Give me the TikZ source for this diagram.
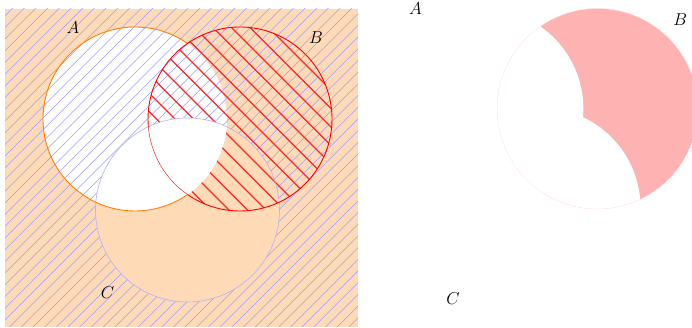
\documentclass[tikz,border=0pt]{standalone}
\definecolor{peach}{RGB}{255,218,182}
\tikzset{
  lbl/.style={inner sep=0pt, font=\LARGE},
  bluehatch/.style={draw=blue!38, line width=0.55pt},
  redhatch/.style={draw=red!85, line width=1.15pt}
}
\begin{document}
\begin{tikzpicture}[x=1pt,y=1pt]
\useasboundingbox (0,0) rectangle (692,328);
\clip (0,0) rectangle (692,328);
\def\pA{(135,209) circle (92)}
\def\pB{(240,209) circle (92)}
\def\pC{(187.5,118) circle (92)}
\def\pU{(5,1) rectangle (358,319)}
% ---------- left panel ----------
\fill[peach] \pU;
\fill[white] \pA;
\begin{scope}
  \clip \pU;
  \foreach \c in {330.7,319,...,-370}
    \draw[bluehatch] (-10,{-10+\c}) -- (370,{370+\c});
\end{scope}
\fill[peach] \pC;
\begin{scope}
  \clip \pC;
  \fill[white] \pA;
\end{scope}
\begin{scope}
  \clip \pB;
  \foreach \c in {254.5,273,...,650}
    \draw[redhatch] (120,{\c-120}) -- (360,{\c-360});
\end{scope}
\begin{scope}
  \clip \pA;
  \fill[white] \pC;
\end{scope}
% outlines
\draw[blue!30, line width=0.6pt] \pC;
\draw[orange, line width=0.9pt] (135,209) ++(55.2:92) arc[start angle=55.2, end angle=304.8, radius=92];
\draw[red, line width=0.4pt] (240,209) ++(184.8:92) arc[start angle=184.8, end angle=235.2, radius=92];
\draw[red, line width=0.9pt] (240,209) ++(235.2:92) arc[start angle=235.2, end angle=544.8, radius=92];
\node[lbl] (la) at (73,300.5) {$A$};
\node[lbl] (lb) at (316,290.5) {$B$};
\node[lbl] (lc) at (107.5,35) {$C$};
% ---------- right panel ----------
\begin{scope}[shift={(597.5,219.3)}, scale=1.09, shift={(-240,-209)}]
  \fill[red!30] \pB;
  \begin{scope}
    \clip \pB;
    \fill[white] \pA;
    \fill[white] \pC;
  \end{scope}
  \draw[red!8, line width=0.4pt] \pB;
  \node[lbl] (ra) at (73,300.5) {$A$};
  \node[lbl] (rb) at (316,290.5) {$B$};
  \node[lbl] (rc) at (107.5,35) {$C$};
\end{scope}
\end{tikzpicture}
\end{document}
